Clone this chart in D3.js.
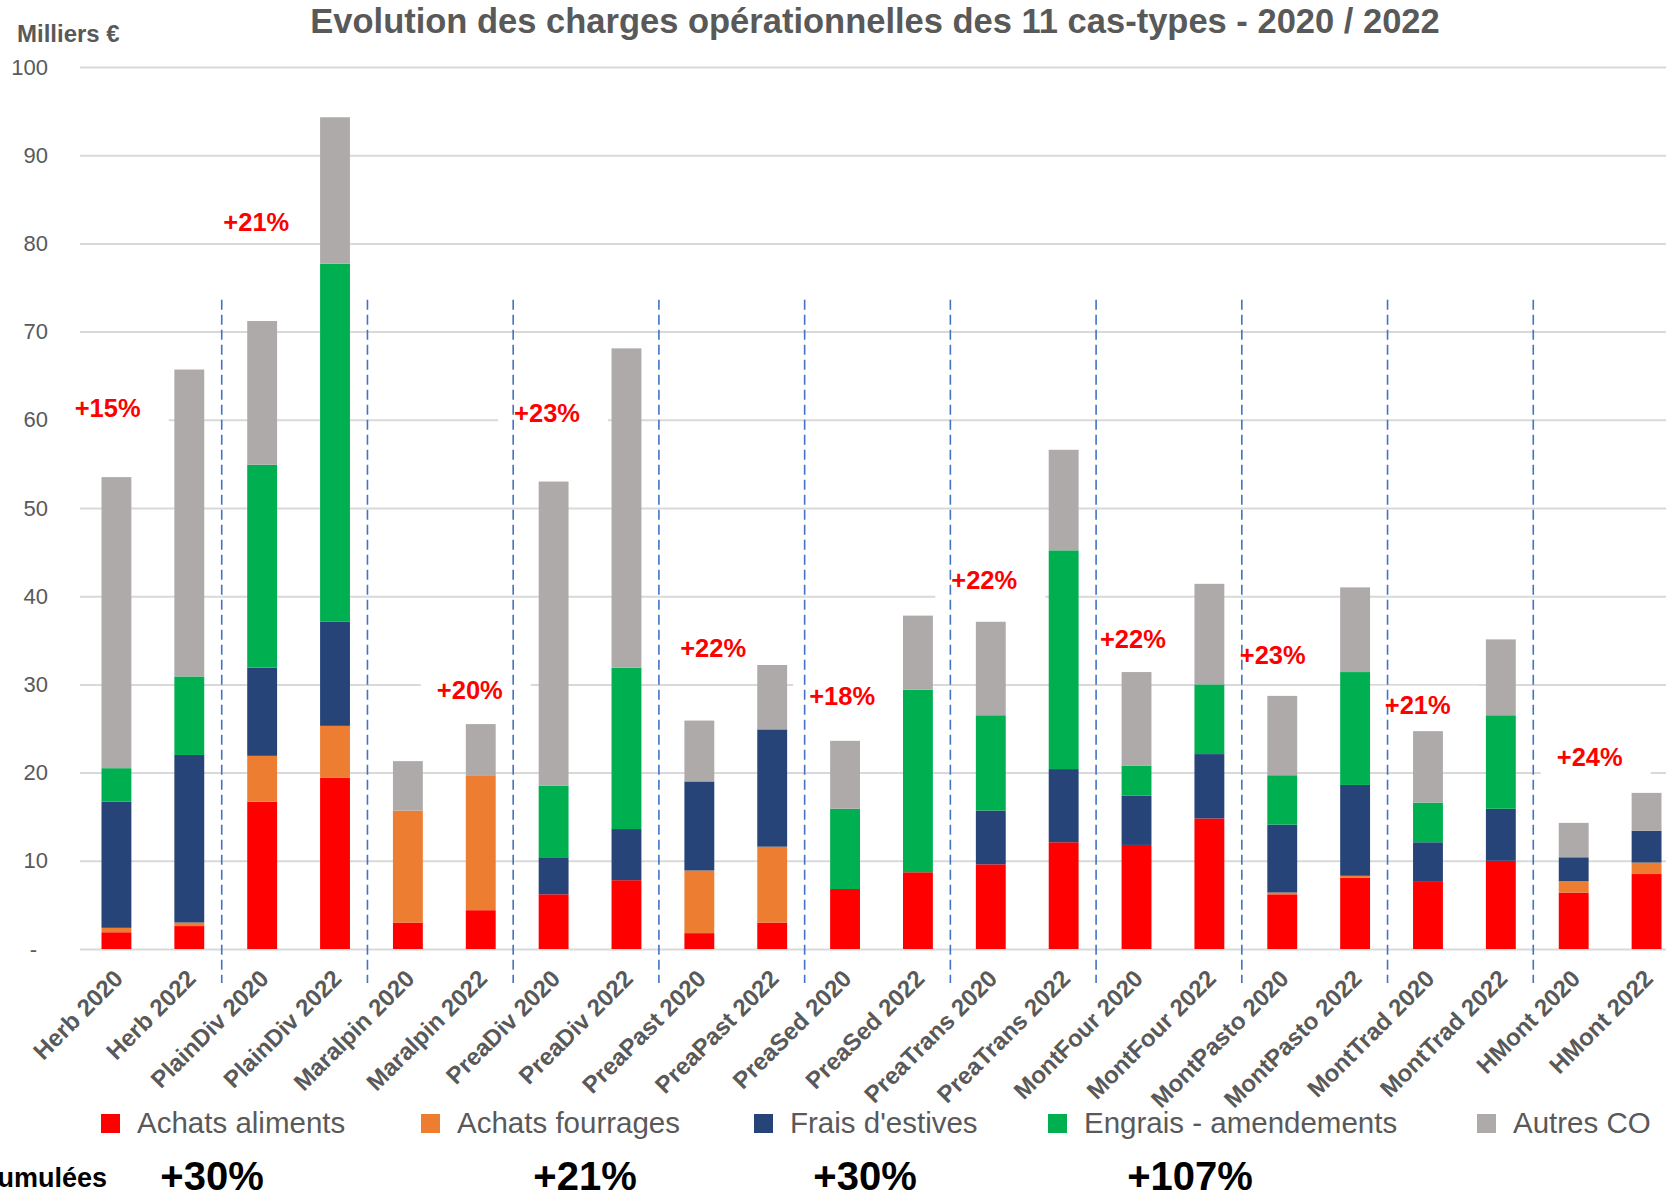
<!DOCTYPE html>
<html>
<head>
<meta charset="UTF-8">
<title>Evolution des charges opérationnelles</title>
<style>
  body { margin: 0; background: #fff; }
  text { font-family: "Liberation Sans", Arial, sans-serif; }
  .grid line { stroke: #d9d9d9; stroke-width: 2px; }
  .grid text { fill: #595959; font-size: 22px; }
</style>
<script src="https://cdn.jsdelivr.net/npm/d3@7"></script>
</head>
<body>
<script>
// categories (cas-types x année)
var categories = ["Herb 2020", "Herb 2022", "PlainDiv 2020", "PlainDiv 2022", "Maralpin 2020", "Maralpin 2022",
  "PreaDiv 2020", "PreaDiv 2022", "PreaPast 2020", "PreaPast 2022", "PreaSed 2020", "PreaSed 2022",
  "PreaTrans 2020", "PreaTrans 2022", "MontFour 2020", "MontFour 2022", "MontPasto 2020", "MontPasto 2022",
  "MontTrad 2020", "MontTrad 2022", "HMont 2020", "HMont 2022"];

// milliers d'euros
var achatsAliments  = [1.9, 2.6, 16.7, 19.4, 3.0, 4.4, 6.2, 7.8, 1.8, 3.0, 6.8, 8.7, 9.6, 12.1, 11.8, 14.8, 6.2, 8.1, 7.7, 10.0, 6.4, 8.5];
var achatsFourrages = [0.5, 0.4, 5.2, 5.9, 12.7, 15.3, 0, 0, 7.1, 8.6, 0, 0, 0, 0, 0, 0, 0.2, 0.2, 0, 0, 1.3, 1.3];
var fraisEstives    = [14.3, 19.0, 10.0, 11.8, 0, 0, 4.2, 5.8, 10.1, 13.3, 0, 0, 6.1, 8.3, 5.6, 7.3, 7.7, 10.3, 4.4, 5.9, 2.7, 3.6];
var engrais         = [3.8, 8.9, 23.0, 40.6, 0, 0, 8.1, 18.3, 0, 0, 9.1, 20.7, 10.8, 24.8, 3.4, 7.9, 5.6, 12.8, 4.5, 10.6, 0, 0];
var autresCO        = [33.0, 34.8, 16.3, 16.6, 5.6, 5.8, 34.5, 36.2, 6.9, 7.3, 7.7, 8.4, 10.6, 11.4, 10.6, 11.4, 9.0, 9.6, 8.1, 8.6, 3.9, 4.3];

var seriesNames  = ["Achats aliments", "Achats fourrages", "Frais d'estives", "Engrais - amendements", "Autres CO"];
var seriesColors = ["#ff0000", "#ed7d31", "#264478", "#00b050", "#aeaaaa"];

var yTicks = [0, 10, 20, 30, 40, 50, 60, 70, 80, 90, 100];

// hausses 2020 -> 2022 per cas-type: text, position on category axis (index), level (milliers €)
var hausseText  = ["+15%", "+21%", "+20%", "+23%", "+22%", "+18%", "+22%", "+22%", "+23%", "+21%", "+24%"];
var hausseAt    = [-0.12, 1.92, 4.85, 5.91, 8.19, 9.96, 11.91, 13.95, 15.87, 17.86, 20.22];
var hausseLevel = [61.3, 82.4, 29.3, 60.8, 34.1, 28.7, 41.8, 35.1, 33.3, 27.7, 21.8];

var cumulText = ["+30%", "+21%", "+30%", "+107%"];

var W = 1666, H = 1199;
var plotLeft = 80, plotRight = 1683, plotTop = 67, plotBottom = 949;

var svg = d3.select("body").append("svg")
  .attr("width", W)
  .attr("height", H);

var x = d3.scaleBand()
  .domain(categories)
  .range([plotLeft, plotRight])
  .paddingInner(0.59)
  .paddingOuter(0.295);

var xIdx = d3.scaleLinear()
  .domain([0, categories.length - 1])
  .range([x(categories[0]) + x.bandwidth() / 2, x(categories[categories.length - 1]) + x.bandwidth() / 2]);

var y = d3.scaleLinear().domain([0, 100]).range([plotBottom, plotTop]);

// gridlines + y labels
var yAxis = d3.axisLeft(y)
  .tickValues(yTicks)
  .tickSize(-(plotRight - plotLeft))
  .tickPadding(32)
  .tickFormat(function(d) { return d === 0 ? "-" : d; });

var gy = svg.append("g")
  .attr("class", "grid")
  .attr("transform", "translate(" + plotLeft + ",0)")
  .call(yAxis);
gy.select(".domain").remove();
gy.selectAll(".tick").filter(function(d) { return d === 0; })
  .select("text").attr("x", -43);

// white boxes behind the hausse labels
var labels = hausseText.map(function(t, i) { return {text: t, at: hausseAt[i], level: hausseLevel[i]}; });
var tmp = svg.append("text").style("font-size", "25.5px").style("font-weight", "bold").text("+22%");
var lw = tmp.node().getComputedTextLength();
tmp.remove();
svg.append("g").selectAll("rect").data(labels).enter().append("rect")
  .attr("x", function(d) { return xIdx(d.at) - lw / 2 - 16; })
  .attr("y", function(d) { return y(d.level) - 19; })
  .attr("width", lw + 44)
  .attr("height", 38)
  .attr("fill", "#fff");

// stacked bars
var rows = categories.map(function(c, i) {
  return {cat: c, a: achatsAliments[i], b: achatsFourrages[i], c: fraisEstives[i], d: engrais[i], e: autresCO[i]};
});
var stack = d3.stack().keys(["a", "b", "c", "d", "e"])(rows);

svg.append("g").selectAll("g")
  .data(stack)
  .enter().append("g")
  .attr("fill", function(d, i) { return seriesColors[i]; })
  .selectAll("rect")
  .data(function(d) { return d; })
  .enter().append("rect")
  .attr("x", function(d) { return x(d.data.cat); })
  .attr("y", function(d) { return y(d[1]); })
  .attr("width", x.bandwidth())
  .attr("height", function(d) { return y(d[0]) - y(d[1]); });

// dashed separators between cas-types
var seps = d3.range(1, categories.length / 2);
svg.append("g").selectAll("line")
  .data(seps)
  .enter().append("line")
  .attr("x1", function(k) { return (xIdx(2 * k - 1) + xIdx(2 * k)) / 2 - 4; })
  .attr("x2", function(k) { return (xIdx(2 * k - 1) + xIdx(2 * k)) / 2 - 4; })
  .attr("y1", y(73.6))
  .attr("y2", plotBottom + 34)
  .attr("stroke", "#4472c4")
  .attr("stroke-width", 1.6)
  .attr("stroke-dasharray", "10,5");

// hausse labels
svg.append("g").selectAll("text")
  .data(labels)
  .enter().append("text")
  .attr("x", function(d) { return xIdx(d.at); })
  .attr("y", function(d) { return y(d.level); })
  .attr("dy", "0.35em")
  .attr("text-anchor", "middle")
  .style("font-size", "25.5px")
  .style("font-weight", "bold")
  .style("fill", "#ff0000")
  .text(function(d) { return d.text; });

// x labels
svg.append("g").selectAll("text")
  .data(categories)
  .enter().append("text")
  .attr("transform", function(d) {
    return "translate(" + (x(d) + x.bandwidth() / 2 + 8) + "," + (plotBottom + 31) + ") rotate(-45)";
  })
  .attr("text-anchor", "end")
  .style("font-size", "24px")
  .style("font-weight", "bold")
  .style("fill", "#595959")
  .text(function(d) { return d; });

// title + unit
svg.append("text")
  .attr("x", 875)
  .attr("y", 33)
  .attr("text-anchor", "middle")
  .style("font-size", "34.5px")
  .style("font-weight", "bold")
  .style("fill", "#595959")
  .text("Evolution des charges opérationnelles des 11 cas-types - 2020 / 2022");

svg.append("text")
  .attr("x", 17)
  .attr("y", 42)
  .style("font-size", "24px")
  .style("font-weight", "bold")
  .style("fill", "#595959")
  .text("Milliers €");

// legend
var legendX = [101, 421, 754, 1048, 1477];
var legend = svg.append("g").selectAll("g")
  .data(seriesNames)
  .enter().append("g")
  .attr("transform", function(d, i) { return "translate(" + legendX[i] + ",1114)"; });
legend.append("rect")
  .attr("width", 19)
  .attr("height", 19)
  .attr("fill", function(d, i) { return seriesColors[i]; });
legend.append("text")
  .attr("x", 36)
  .attr("y", 19)
  .style("font-size", "29.5px")
  .style("fill", "#595959")
  .text(function(d) { return d; });

// hausses cumulées
svg.append("text")
  .attr("x", 107)
  .attr("y", 1187)
  .attr("text-anchor", "end")
  .style("font-size", "27px")
  .style("font-weight", "bold")
  .style("fill", "#000")
  .text("Hausses cumulées");

var cumulX = [212, 585, 865, 1190];
svg.append("g").selectAll("text")
  .data(cumulText)
  .enter().append("text")
  .attr("x", function(d, i) { return cumulX[i]; })
  .attr("y", 1190)
  .attr("text-anchor", "middle")
  .style("font-size", "40px")
  .style("font-weight", "bold")
  .style("fill", "#000")
  .text(function(d) { return d; });
</script>
</body>
</html>
